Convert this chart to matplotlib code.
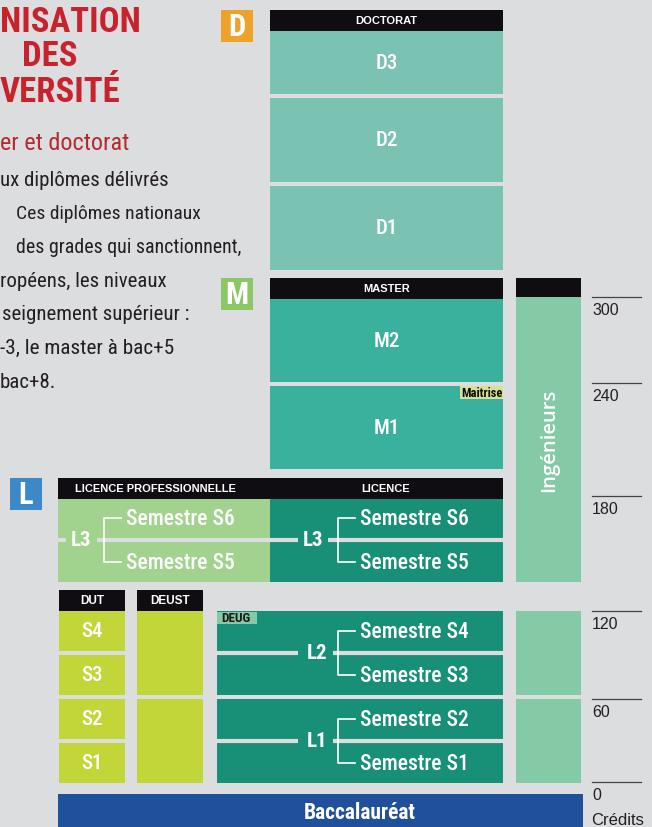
import matplotlib.pyplot as plt
from matplotlib.patches import Rectangle

# ---- data ----
title_lines = ['NISATION', 'DES', 'VERSITÉ']
subtitle = 'er et doctorat'
intro_lines = ['ux diplômes délivrés', 'Ces diplômes nationaux', 'des grades qui sanctionnent,',
               'ropéens, les niveaux', 'seignement supérieur :', '-3, le master à bac+5', 'bac+8.']
badges = ['D', 'M', 'L']
doctorat_years = ['D3', 'D2', 'D1']
master_years = ['M2', 'M1']
licence_years = ['L3', 'L2', 'L1']
semesters = [['Semestre S6', 'Semestre S5'], ['Semestre S4', 'Semestre S3'], ['Semestre S2', 'Semestre S1']]
dut_semesters = ['S4', 'S3', 'S2', 'S1']
headers = ['DOCTORAT', 'MASTER', 'LICENCE PROFESSIONNELLE', 'LICENCE', 'DUT', 'DEUST']
credits = [300, 240, 180, 120, 60, 0]
side_label = 'Ingénieurs'
base_label = 'Baccalauréat'

# ---- colours ----
BG = '#DCDDDF'
BLACK = '#0F0C12'
C_DOC = '#7AC3B2'
C_MASTER = '#3AB19C'
C_LPRO = '#A1D28E'
C_LIC = '#188F77'
C_LIME = '#C2D63A'
C_ING = '#84CAA6'
C_BAC = '#204F9C'
BADGE_COLORS = ['#EFA229', '#8BC765', '#3D88C9']
RED = '#C8232D'
TXT = '#231F20'

NARROW = ['Roboto Condensed', 'Archivo Narrow', 'Liberation Sans Narrow', 'Liberation Sans']
SANS = ['Liberation Sans', 'DejaVu Sans']

fig = plt.figure(figsize=(6.52, 8.28), dpi=100, facecolor=BG)
ax = fig.add_axes([0, 0, 1, 1])
ax.set_xlim(0, 652)
ax.set_ylim(828, 0)
ax.axis('off')


def box(x0, x1, y0, y1, color, z=1):
    ax.add_patch(Rectangle((x0, y0), x1 - x0, y1 - y0, facecolor=color, edgecolor='none', zorder=z))


def label(x, y, s, size, color='white', ha='center', weight='bold', family=NARROW, **kw):
    ax.text(x, y, s, fontsize=size, color=color, ha=ha, va='center', fontweight=weight, family=family,
            zorder=5, **kw)


# ---- left text column ----
for s, (x, y) in zip(title_lines, [(0, 22), (22, 56), (0, 93)]):
    label(x, y, s, 25, color=RED, ha='left')
label(0, 144, subtitle, 17.5, color='#B5292F', ha='left', weight='normal')
intro_x = [0, 16, 16, 0, 2, 0, 0]
intro_size = [15, 14, 14.3, 15, 15, 15.3, 15]
for i, (s, x, fs) in enumerate(zip(intro_lines, intro_x, intro_size)):
    label(x, 180 + i * 33.7, s, fs, color=TXT, ha='left', weight='normal')

# ---- badges ----
for b, col, (x, y) in zip(badges, BADGE_COLORS, [(221, 11), (221, 279), (10, 479)]):
    box(x, x + 32, y, y + 32, col)
    label(x + 16, y + 16, b, 22)

# ---- doctorat ----
DX0, DX1 = 270, 503
DXC = (DX0 + DX1) / 2
box(DX0, DX1, 11, 32, BLACK)
label(DXC, 21.5, headers[0], 8, family=SANS)
for name, (y0, y1) in zip(doctorat_years, [(32, 95), (99, 183), (187, 271)]):
    box(DX0, DX1, y0, y1, C_DOC)
    label(DXC, (y0 + y1) / 2, name, 15, weight='medium')

# ---- master ----
box(DX0, DX1, 279, 300, BLACK)
label(DXC, 289.5, headers[1], 8, family=SANS)
for name, (y0, y1) in zip(master_years, [(300, 383), (387, 470)]):
    box(DX0, DX1, y0, y1, C_MASTER)
    label(DXC, (y0 + y1) / 2, name, 15, weight='medium')
box(460, 503, 387, 400, '#D6E293', z=2)
label(461, 393.5, 'Maitrise', 9, color=BLACK, ha='left')

# ---- licence L3 ----
box(58, 503, 479, 500, BLACK)
label(75, 489.5, headers[2], 8, ha='left', family=SANS)
label(386, 489.5, headers[3], 8, family=SANS)
box(58, 270, 500, 583, C_LPRO)
box(270, 503, 500, 583, C_LIC)

# ---- DUT / DEUST ----
box(59, 125, 591, 612, BLACK)
label(92, 601.5, headers[4], 8.5, family=SANS)
box(137, 203, 591, 612, BLACK)
label(170, 601.5, headers[5], 8.5, family=SANS)
sem_rows = [(612, 652), (656, 696), (700, 740), (744, 784)]
for name, (y0, y1) in zip(dut_semesters, sem_rows):
    box(59, 125, y0, y1, C_LIME)
    label(92, (y0 + y1) / 2, name, 15, weight='medium')
for y0, y1 in [(612, 696), (700, 784)]:
    box(137, 203, y0, y1, C_LIME)

# ---- licence L2 / L1 ----
for y0, y1 in [(612, 696), (700, 784)]:
    box(217, 503, y0, y1, C_LIC)
box(217, 257, 613, 625, C_ING, z=2)
label(221, 619, 'DEUG', 9.5, color='#1A1A1A', ha='left')


def gap_line(y, segments):
    for xa, xb in segments:
        ax.plot([xa, xb], [y, y], color=BG, lw=3, solid_capstyle='butt', zorder=3)


def bracket(y, brk_x, pair):
    top, bot = y - 22, y + 22
    ax.plot([brk_x + 17, brk_x, brk_x, brk_x + 17], [top, top, bot, bot], color='white', lw=1.2, zorder=4)
    label(brk_x + 22, top, pair[0], 15.5, ha='left', weight='medium')
    label(brk_x + 22, bot, pair[1], 15.5, ha='left', weight='medium')


# L3 (licence pro + licence)
gap_line(541, [(58, 66), (97, 298), (328, 503)])
label(81, 541, licence_years[0], 15)
label(313, 541, licence_years[0], 15)
bracket(541, 104, semesters[0])
bracket(541, 338, semesters[0])
# L2, L1
for name, pair, y in zip(licence_years[1:], semesters[1:], [654, 742]):
    gap_line(y, [(217, 298), (333, 503)])
    label(317, y, name, 15)
    bracket(y, 338, pair)

# ---- ingenieurs ----
box(516, 581, 279, 298, BLACK)
box(516, 581, 298, 583, C_ING)
box(516, 581, 612, 696, C_ING)
box(516, 581, 700, 784, C_ING)
label(549, 440, side_label, 14.5, rotation=90, weight='semibold', family=['Open Sans', 'DejaVu Sans'])

# ---- baccalaureat ----
box(58, 583, 795, 830, C_BAC)
label(360, 813, base_label, 15.5)

# ---- credit scale ----
tick_y = [298, 384, 497, 612, 700, 783]
for c, y in zip(credits, tick_y):
    ax.plot([592, 641], [y, y], color='#444444', lw=0.9, zorder=3)
    label(592, y + 13, str(c), 11.5, color=TXT, ha='left', weight='normal', family=SANS)
label(591, 821, 'Crédits', 12, color=TXT, ha='left', weight='normal', family=SANS)

fig.savefig('out.png', dpi=100, facecolor=BG)
